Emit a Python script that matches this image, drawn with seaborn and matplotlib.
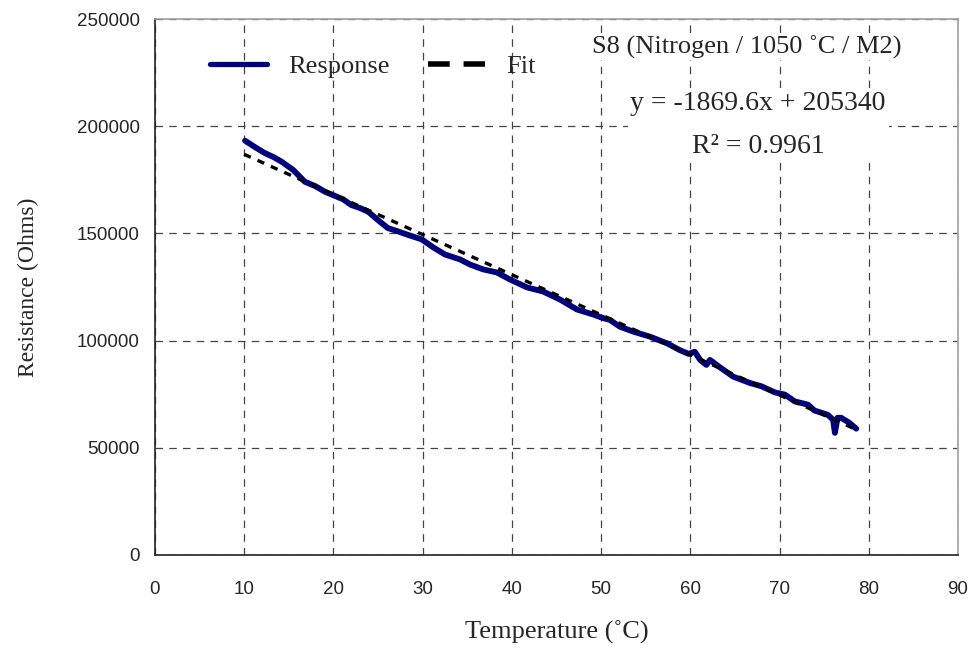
#!/usr/bin/env python3

# Import libraries
import pandas as pd
import numpy as np
import matplotlib as mpl
mpl.use("Agg")
import matplotlib.pyplot as plt
from matplotlib.lines import Line2D
import seaborn as sns


# Response curve (temperature in C, resistance in Ohms)
temperature = [10.1, 11.2, 12.3, 13.3, 14.2, 15.5, 16.8, 18.0, 19.05, 20.2,
               21.1, 22.0, 23.0, 23.9, 25.0, 26.1, 27.2, 28.4, 29.9, 31.2,
               32.5, 34.2, 35.3, 36.8, 38.3, 39.8, 41.7, 43.5, 45.4, 47.3,
               49.1, 50.0, 51.0, 52.1, 53.6, 55.5, 57.4, 58.8, 59.8, 60.5,
               61.1, 61.8, 62.2, 63.3, 64.8, 66.7, 68.0, 69.5, 70.6, 71.7,
               73.2, 73.9, 75.4, 76.0, 76.2, 76.5, 76.9, 77.8, 78.6]
resistance = [193250, 190300, 187500, 185600, 183450, 179600, 174100, 172000, 169450, 167450,
              165900, 163250, 161800, 160100, 156200, 152500, 151000, 149250, 147200, 143460,
              140190, 137850, 135500, 133200, 131800, 128500, 124800, 122900, 119150, 114500,
              112200, 110800, 109600, 106500, 104200, 101800, 98700, 95600, 93800, 94800,
              91000, 88650, 91000, 87600, 83200, 80200, 78650, 75800, 74800, 71650,
              70100, 67400, 65400, 63100, 56950, 64000, 64000, 61700, 58900]

# Linear fit end points
fit_x = [10.0, 78.7]
fit_y = [186900, 58300]

fit_title = "S8 (Nitrogen / 1050 \u02daC / M2)"
fit_label = "y = -1869.6x + 205340\nR\u00b2 = 0.9961"

x_ticks = list(range(0, 91, 10))
y_ticks = list(range(0, 250001, 50000))


def plot():
    sns.set_style("white")
    plt.rcParams["font.family"] = ["Liberation Sans", "DejaVu Sans"]
    serif = ["Liberation Serif", "DejaVu Serif"]

    fig = plt.figure(figsize=(9.74, 6.51), dpi=100)
    ax = fig.add_axes([0.159, 0.1475, 0.8246, 0.8233])

    response = pd.DataFrame({"Temperature": temperature, "Resistance": resistance})
    fit = pd.DataFrame({"Temperature": fit_x, "Resistance": fit_y})

    sns.lineplot(data=response, x="Temperature", y="Resistance", ax=ax, sort=False,
                 color="#00007f", linewidth=4.2, zorder=3)
    sns.lineplot(data=fit, x="Temperature", y="Resistance", ax=ax, sort=False,
                 color="black", linewidth=2.4, linestyle=(0, (2.2, 2.2)), zorder=4)

    ax.set_xlim(0, 90)
    ax.set_ylim(0, 250000)
    ax.set_xticks(x_ticks)
    ax.set_yticks(y_ticks)

    # Dashed grid
    ax.grid(True, color="#444444", linestyle=(0, (6, 5)), linewidth=0.9)
    ax.set_axisbelow(True)

    # Spines
    for side in ["top", "right"]:
        ax.spines[side].set_color("#a0a0a0")
        ax.spines[side].set_linewidth(1.2)
    for side in ["left", "bottom"]:
        ax.spines[side].set_color("#222222")
        ax.spines[side].set_linewidth(1.2)

    ax.tick_params(axis="both", direction="out", length=5, width=0.9, color="#222222",
                   labelsize=13.5, pad=6)
    ax.tick_params(axis="x", pad=14)

    ax.set_xlabel("Temperature (\u02daC)", family=serif, fontsize=19, labelpad=16)
    ax.set_ylabel("Resistance (Ohms)", family=serif, fontsize=17, labelpad=27)

    # Legend
    handles = [Line2D([], [], color="#00007f", linewidth=3.8),
               Line2D([], [], color="black", linewidth=4, linestyle=(0, (3.9, 2.5)))]
    ax.legend(handles, ["Response", "Fit"], loc="center left", bbox_to_anchor=(0.0685, 0.912),
              ncol=2, frameon=False, prop={"family": serif, "size": 19},
              borderaxespad=0, borderpad=0,
              handlelength=2.16, columnspacing=1.45, handletextpad=0.8)

    # Trendline labels
    ax.text(0.737, 0.948, fit_title, transform=ax.transAxes, ha="center", va="center",
            family=serif, fontsize=19,
            bbox=dict(facecolor="white", edgecolor="none", pad=1))
    ax.text(0.751, 0.803, fit_label, transform=ax.transAxes, ha="center", va="center",
            family=serif, fontsize=20, linespacing=1.95,
            bbox=dict(facecolor="white", edgecolor="none", pad=2))

    return fig


def main():
    fig = plot()
    fig.savefig("out.png", dpi=100)


if __name__ == '__main__':
    main()
